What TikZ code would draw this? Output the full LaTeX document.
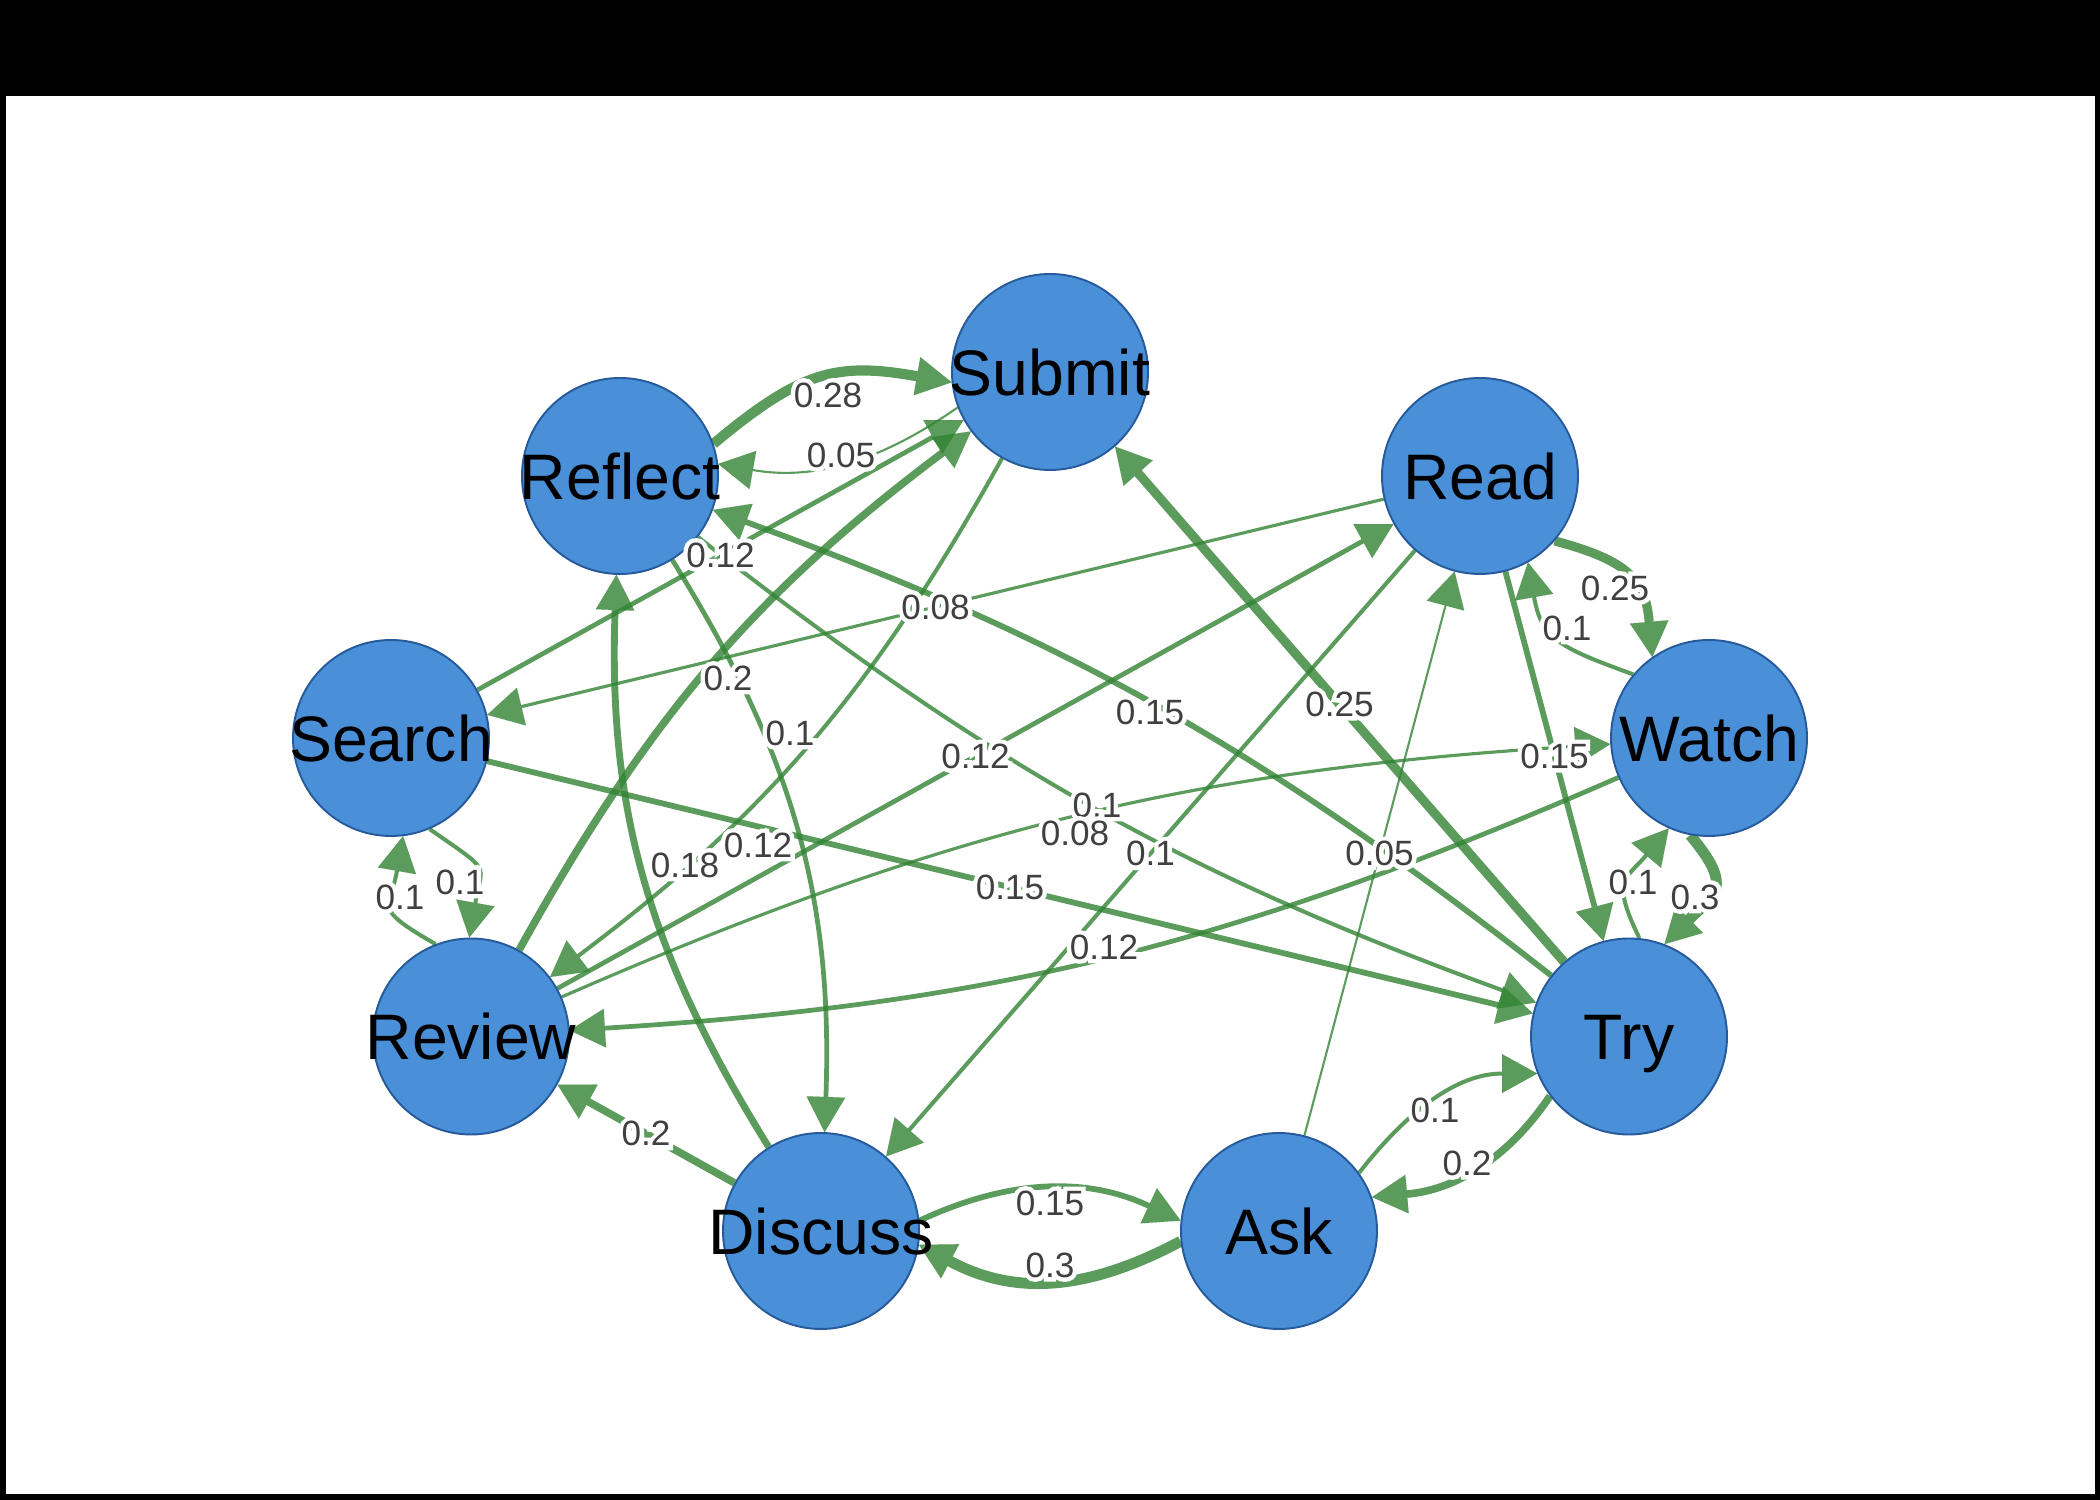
\documentclass[tikz,border=0pt]{standalone}
\usepackage{fontspec}
\setmainfont{Liberation Sans}
\newfontfamily\halofont[FakeBold=25]{Liberation Sans}
\usetikzlibrary{arrows.meta}
\definecolor{edgecol}{RGB}{50,132,52}
\definecolor{nodefill}{RGB}{74,144,217}
\definecolor{nodeline}{RGB}{38,90,155}
\definecolor{labgray}{RGB}{64,64,64}
\newcommand\lab[1]{\rlap{\halofont\color{white}#1}#1}
\newcommand\nt[1]{\makebox[0pt]{#1}}
\pgfdeclarelayer{bglayer}\pgfdeclarelayer{edgelayer}\pgfdeclarelayer{lablayer}
\pgfsetlayers{bglayer,edgelayer,main,lablayer}
\tikzset{
 stnode/.style={circle, minimum size=19.6mm, inner sep=0pt, fill=nodefill, draw=nodeline, line width=0.55pt,
   font=\fontsize{18.3pt}{20pt}\selectfont, text height=13.1pt, text depth=0pt},
 lnk/.style={draw=edgecol, opacity=0.8, -{Triangle[length=10pt,width=11pt,line width=0.01pt]}},
 e05/.style={lnk, line width=0.6pt},
 e08/.style={lnk, line width=0.9pt},
 e10/.style={lnk, line width=1.15pt},
 e12/.style={lnk, line width=1.35pt},
 e15/.style={lnk, line width=1.65pt},
 e18/.style={lnk, line width=1.95pt},
 e20/.style={lnk, line width=2.15pt},
 e25/.style={lnk, line width=2.6pt},
 e28/.style={lnk, line width=2.9pt},
 e30/.style={lnk, line width=3.1pt},
 lbl/.style={inner sep=0pt, font=\fontsize{10pt}{12pt}\selectfont, text=labgray},
}
\begin{document}
\begin{tikzpicture}[x=0.1mm,y=0.1mm]
\useasboundingbox (0,0) rectangle (2100,1500);
\begin{pgfonlayer}{bglayer}
\fill[black] (0,0) rectangle (2100,1500);
\fill[white] (6,6) rectangle (2095,1404);
\end{pgfonlayer}

% nodes
\node[stnode] (submit)  at (1050,1128)  {\nt{Submit}};
\node[stnode] (reflect) at (620,1024)   {\nt{Reflect}};
\node[stnode] (search)  at (391,762)    {\nt{Search}};
\node[stnode] (review)  at (471,463.5)  {\nt{Review}};
\node[stnode] (discuss) at (821,269)    {\nt{Discuss}};
\node[stnode] (ask)     at (1279,269)   {\nt{Ask}};
\node[stnode] (try)     at (1629,463.5) {\nt{Try}};
\node[stnode] (watch)   at (1709,762)   {\nt{Watch}};
\node[stnode] (read)    at (1480,1024)  {\nt{Read}};

\begin{pgfonlayer}{edgelayer}
% straight edges
\draw[e12] (search) -- coordinate[midway] (l1) (submit);
\draw[e08] (read) -- coordinate[midway] (l2) (search);
\draw[e25] (try) -- coordinate[midway] (l3) (submit);
\draw[e15] (read) -- coordinate[midway] (l4) (try);
\draw[e05] (ask) -- coordinate[midway] (l5) (read);
\draw[e10] (read) -- coordinate[midway] (l6) (discuss);
\draw[e12] (review) -- coordinate[midway] (l7) (read);
\draw[e15] (search) -- coordinate[midway] (l8) (try);
\draw[e20] (discuss) -- coordinate[midway] (l9) (review);
% slightly bent pairs
\draw[e20] (review) to[bend left=12] (submit);
\draw[e10] (submit) to[bend left=12] (review);
\draw[e15] (try) to[bend right=9] (reflect);
\draw[e10] (reflect) to[bend right=9] (try);
\draw[e08] (review) to[bend left=10] (watch);
\draw[e12] (watch) to[bend left=10] (review);
\draw[e18] (discuss) to[bend left=17] (reflect);
\draw[e12] (reflect) to[bend left=17] (discuss);
% curved pairs between neighbours
\draw[e28] (reflect.19) to[out=40,in=170,looseness=1.2] (submit.186);
\draw[e05] (submit.201) to[out=215,in=-10] (reflect.7);
\draw[e10] (search.293) to[out=-35,in=80,looseness=1.7] (review.91);
\draw[e10] (review.111) to[out=150,in=260,looseness=1.7] (search.277);
\draw[e25] (read.319) to[out=-15,in=95,looseness=1.3] (watch.125);
\draw[e10] (watch.140) to[out=160,in=-80,looseness=1.3] (read.299);
\draw[e30] (watch.259) to[out=-50,in=45,looseness=1.6] (try.69);
\draw[e10] (try.84) to[out=116,in=230,looseness=1.5] (watch.246);
\draw[e20] (try.217) to[out=236,in=5] (ask.20);
\draw[e10] (ask.36) to[out=52,in=180] (try.202);
\draw[e15] (discuss.6) to[out=25,in=155] (ask.174);
\draw[e30] (ask.186) to[out=208,in=-28,looseness=1.05] (discuss.352);
\end{pgfonlayer}

\begin{pgfonlayer}{lablayer}
\node[lbl] at (l1) {\lab{0.12}};
\node[lbl] at (l2) {\lab{0.08}};
\node[lbl] at (l3) {\lab{0.25}};
\node[lbl] at (l4) {\lab{0.15}};
\node[lbl] at (l5) {\lab{0.05}};
\node[lbl] at (l6) {\lab{0.1}};
\node[lbl] at (l7) {\lab{0.12}};
\node[lbl] at (l8) {\lab{0.15}};
\node[lbl] at (l9) {\lab{0.2}};
\node[lbl] at (728,822)  {\lab{0.2}};
\node[lbl] at (790,767)  {\lab{0.1}};
\node[lbl] at (1150,788) {\lab{0.15}};
\node[lbl] at (1097,695) {\lab{0.1}};
\node[lbl] at (1075,667) {\lab{0.08}};
\node[lbl] at (1104,553) {\lab{0.12}};
\node[lbl] at (685,635)  {\lab{0.18}};
\node[lbl] at (758,655)  {\lab{0.12}};
\node[lbl] at (828,1105) {\lab{0.28}};
\node[lbl] at (841,1045) {\lab{0.05}};
\node[lbl] at (460,618)  {\lab{0.1}};
\node[lbl] at (400,603)  {\lab{0.1}};
\node[lbl] at (1615,912) {\lab{0.25}};
\node[lbl] at (1567,872) {\lab{0.1}};
\node[lbl] at (1695,603) {\lab{0.3}};
\node[lbl] at (1633,618) {\lab{0.1}};
\node[lbl] at (1467,337) {\lab{0.2}};
\node[lbl] at (1435,390) {\lab{0.1}};
\node[lbl] at (1050,297) {\lab{0.15}};
\node[lbl] at (1050,235) {\lab{0.3}};
\end{pgfonlayer}
\end{tikzpicture}
\end{document}
